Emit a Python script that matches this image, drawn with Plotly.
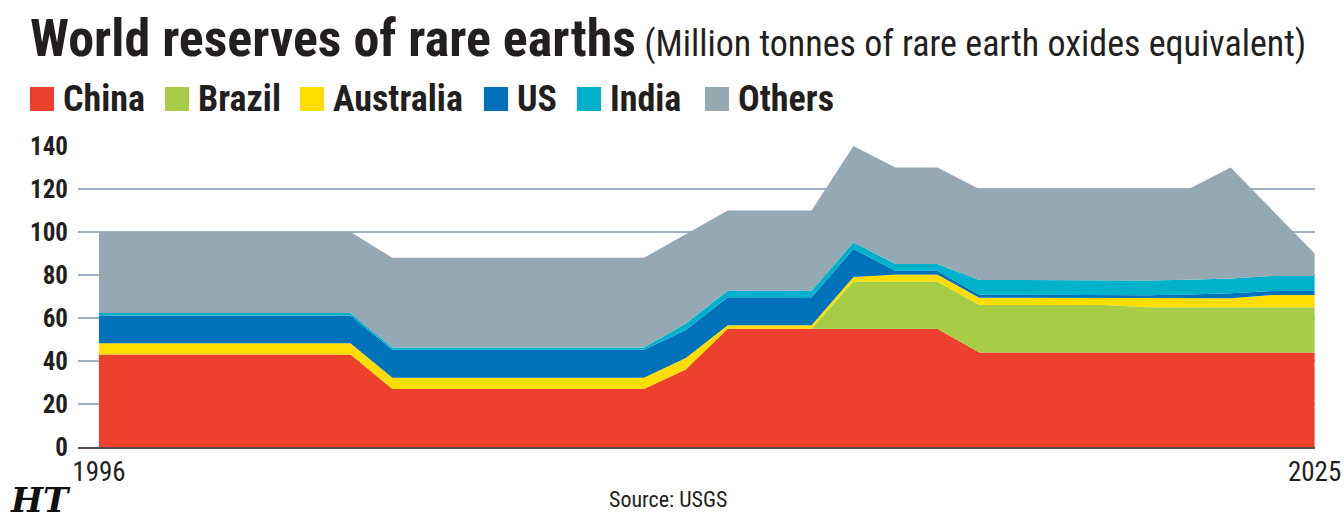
import plotly.graph_objects as go

years = list(range(1996, 2026))

china = [43, 43, 43, 43, 43, 43, 43, 27, 27, 27, 27, 27, 27, 27,
         36, 55, 55, 55, 55, 55, 55, 44, 44, 44, 44, 44, 44, 44, 44, 44]
brazil = [0, 0, 0, 0, 0, 0, 0, 0, 0, 0, 0, 0, 0, 0, 0, 0, 0, 0,
          22, 22, 22, 22, 22, 22, 22, 21, 21, 21, 21, 21]
australia = [5.2, 5.2, 5.2, 5.2, 5.2, 5.2, 5.2, 5.2, 5.2, 5.2, 5.2, 5.2, 5.2, 5.2,
             5.4, 1.6, 1.6, 1.6, 2.1, 3.2, 3.2, 3.4, 3.4, 3.3, 3.3, 4.1, 4.1, 4.2, 5.7, 5.7]
us = [13, 13, 13, 13, 13, 13, 13, 13, 13, 13, 13, 13, 13, 13, 13, 13, 13, 13, 13,
      1.8, 1.8, 1.4, 1.4, 1.4, 1.4, 1.5, 1.8, 2.3, 1.9, 1.9]
india = [1.1, 1.1, 1.1, 1.1, 1.1, 1.1, 1.1, 1.1, 1.1, 1.1, 1.1, 1.1, 1.1, 1.1,
         3.1, 3.1, 3.1, 3.1, 3.1, 3.1, 3.1, 6.9, 6.9, 6.9, 6.9, 6.9, 6.9, 6.9, 6.9, 6.9]
others = [37.7, 37.7, 37.7, 37.7, 37.7, 37.7, 37.7, 41.7, 41.7, 41.7, 41.7, 41.7, 41.7, 41.7,
          41.5, 37.3, 37.3, 37.3, 44.8, 44.9, 44.9, 42.3, 42.3, 42.4, 42.4, 42.5, 42.2, 51.6, 30.5, 10.5]

series_names = ["China", "Brazil", "Australia", "US", "India", "Others"]
series_values = [china, brazil, australia, us, india, others]
colors = ["#EE412D", "#A6CD45", "#FFDD00", "#0072B9", "#00B1CB", "#94A9B4"]

y_ticks = [0, 20, 40, 60, 80, 100, 120, 140]
x_ticks = [1996, 2025]

FONT = "Roboto Condensed, DejaVu Sans Condensed, sans-serif"
INK = "#231F20"

W, H = 1344, 525
L, R, T, B = 78, 29, 146, 78
PW, PH = W - L - R, H - T - B


def px(x):
    return (x - L) / PW


def py(y):
    return (H - B - y) / PH


fig = go.Figure()
for name, vals, col in zip(series_names, series_values, colors):
    fig.add_trace(go.Scatter(
        x=years, y=vals, name=name, mode="lines", stackgroup="one",
        line=dict(width=0, color=col), fillcolor=col, showlegend=False,
        hoverinfo="x+y+name"))

annotations = []
annotations.append(dict(
    xref="paper", yref="paper", x=px(28), y=py(38), xanchor="left", yanchor="middle",
    text="<b>World reserves of rare earths</b>"
         "<span style='font-size:36px'> (Million tonnes of rare earth oxides equivalent)</span>",
    showarrow=False, font=dict(family=FONT, size=52, color=INK)))

legend_items = [("China", 30), ("Brazil", 165), ("Australia", 300), ("US", 484), ("India", 577), ("Others", 705)]
shapes = []
for (name, x0), col in zip(legend_items, colors):
    shapes.append(dict(type="rect", xref="paper", yref="paper",
                       x0=px(x0), x1=px(x0 + 24), y0=py(111), y1=py(87),
                       fillcolor=col, line=dict(width=0)))
    annotations.append(dict(
        xref="paper", yref="paper", x=px(x0 + 31), y=py(99), xanchor="left", yanchor="middle",
        text="<b>" + name + "</b>", showarrow=False,
        font=dict(family=FONT, size=36, color=INK)))

annotations.append(dict(
    xref="paper", yref="paper", x=px(668), y=py(499), xanchor="center", yanchor="middle",
    text="Source: USGS", showarrow=False, font=dict(family=FONT, size=22, color=INK)))
annotations.append(dict(
    xref="paper", yref="paper", x=px(8), y=py(500), xanchor="left", yanchor="middle",
    text="<b><i>HT</i></b>", showarrow=False, font=dict(family="DejaVu Serif, serif", size=34, color="#111")))

fig.update_layout(
    width=W, height=H, autosize=False,
    margin=dict(l=L, r=R, t=T, b=B, pad=0, autoexpand=False),
    paper_bgcolor="white", plot_bgcolor="white",
    showlegend=False,
    shapes=shapes,
    annotations=annotations,
    xaxis=dict(range=[1995.5, 2025.01], tickvals=x_ticks, ticktext=[str(v) for v in x_ticks],
               showgrid=False, zeroline=False, showline=True, linecolor="#5A4B47", linewidth=2,
               layer="above traces", ticks="", ticklabelstandoff=0, ticklabeloverflow="allow",
               automargin=False,
               tickfont=dict(family=FONT, size=27, color=INK)),
    yaxis=dict(range=[0, 140], tickvals=y_ticks,
               showgrid=True, gridcolor="#9DB1C1", gridwidth=2,
               zeroline=False, ticks="", ticklabelstandoff=9, automargin=False,
               tickfont=dict(family=FONT, size=25, color=INK, weight="bold")),
)

fig.write_html("out.html", config={"displayModeBar": False, "responsive": False})
